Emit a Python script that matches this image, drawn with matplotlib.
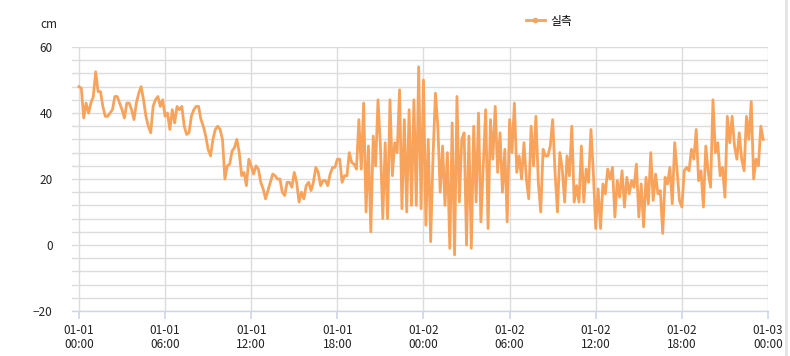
import matplotlib
matplotlib.use('Agg')
import matplotlib.pyplot as plt
import matplotlib.dates as mdates
from matplotlib.lines import Line2D
import numpy as np
import pandas as pd

plt.rcParams['font.family'] = ['Noto Sans CJK KR', 'DejaVu Sans']

### observed water level (cm), 10 minute steps from 01-01 00:00
level_00_12 = [48, 47.5, 38.5, 43, 40, 43, 45, 52.5, 46.5, 46.5,
               42, 39, 39, 40, 41, 45, 45, 43, 41, 38.5,
               43, 43, 41, 38, 43, 46, 48, 44, 39, 36,
               34, 42, 44, 45, 42, 44, 39, 40, 35, 41,
               37, 42, 41, 42, 36, 33.5, 34, 39, 41, 42,
               42, 38, 36, 33, 29, 27, 32, 35, 36, 35,
               32, 20, 24, 24.5, 28.5, 29.5, 32, 28, 21, 22,
               18, 26, 24]
level_12_24 = [21.5, 24, 23, 19, 17, 14, 16.5, 19, 21.5, 21,
               20, 20, 16, 15, 19, 19, 17.5, 22, 19, 13,
               16, 14, 18, 19, 16.5, 19, 23.5, 22, 18, 19.5,
               19.5, 18, 21.5, 23.5, 23.5, 26, 26, 19, 21, 21,
               28, 25, 24.5, 23, 38, 23, 43, 10, 30, 4,
               33, 24, 44, 30, 8, 31, 8, 44, 21, 31,
               28, 47, 11, 38, 10, 41, 12, 44, 12, 54,
               11]
level_24_36 = [50, 6, 32, 1, 27, 46, 36, 16, 30, 12,
               28, -1, 37, -3, 45, 13, 32, 34, 0, 33,
               -1, 36, 13, 40, 7, 24, 41, 5, 38, 26,
               42, 22, 34, 16, 29, 7, 38, 28, 43, 22,
               27, 20, 31, 20, 14, 36, 24, 39, 19, 10,
               29, 27, 27, 30, 38, 22, 10, 28, 23, 13,
               27, 21, 36, 13, 18, 13, 30, 13, 23, 19,
               35, 22]
level_36_48 = [5, 17, 5, 18.5, 15.5, 23, 20, 23.5, 8.5, 19.5,
               14.5, 22.5, 11.5, 20.5, 15.5, 19.5, 17.5, 24.5, 8.5, 18.5,
               5.5, 20.5, 12.5, 28, 13.5, 21.5, 15.5, 16.5, 3.5, 20.5,
               18.5, 23.5, 12.5, 31, 22.5, 13.5, 11.5, 22.5, 23.5, 22.5,
               29, 26, 35, 19.5, 22.5, 11.5, 30, 22, 17.5, 44,
               28, 31, 21, 23.5, 14.5, 39, 31, 39, 30, 26,
               34, 26, 22.5, 39, 32, 43.5, 20, 26, 24, 36,
               32]

level = level_00_12 + level_12_24 + level_24_36 + level_36_48
times = pd.date_range('2023-01-01 00:00', periods=len(level), freq='10min')

y_major = [-20, 0, 20, 40, 60]
line_color = '#f7a35c'
grid_color = '#dcdcdc'
axis_color = '#ccd6eb'

fig = plt.figure(figsize=(7.9, 3.56), dpi=100)
ax = fig.add_axes([72/790, 1-311/356, (768-72)/790, (311-47)/356])

ax.plot(times, level, color=line_color, lw=2, solid_joinstyle='round',
        label='실측', zorder=3)

# axes limits and ticks
t0 = pd.Timestamp('2023-01-01 00:00')
ax.set_xlim(t0 - pd.Timedelta(minutes=29), pd.Timestamp('2023-01-03 00:00'))
ax.set_ylim(-20, 60)
ax.set_yticks(y_major)
ax.set_yticks(np.arange(-20, 61, 4), minor=True)
ax.xaxis.set_major_locator(mdates.HourLocator(byhour=[0, 6, 12, 18]))
ax.xaxis.set_major_formatter(mdates.DateFormatter('%m-%d\n%H:%M'))

ax.grid(True, which='both', axis='y', color=grid_color, lw=1)
ax.grid(True, which='major', axis='x', color=grid_color, lw=1)
ax.set_axisbelow(True)

for s in ['top', 'right', 'left']:
    ax.spines[s].set_visible(False)
ax.spines['bottom'].set_color(axis_color)
ax.spines['bottom'].set_linewidth(1)

ax.tick_params(axis='y', which='both', length=0, pad=14, labelsize=8.5, labelcolor='#222222')
ax.tick_params(axis='x', which='major', length=6, width=1.2, color=axis_color,
               pad=3, labelsize=8.5, labelcolor='#222222')

fig.text(49/790, 1-24/356, 'cm', ha='center', va='center', fontsize=8.5, color='#222222')

fig.legend(loc='center', bbox_to_anchor=(549/790, 1-21/356), frameon=False,
           fontsize=8.5, handlelength=1.6, handletextpad=0.5,
           handles=[Line2D([0], [0], color=line_color, lw=2, marker='o', markersize=3)],
           labels=['실측'])

# light border on the right edge
fig.add_artist(Line2D([786/790, 786/790], [0, 1], color='#e4e4e4', lw=2,
                      transform=fig.transFigure))

fig.savefig('out.png', dpi=100)
